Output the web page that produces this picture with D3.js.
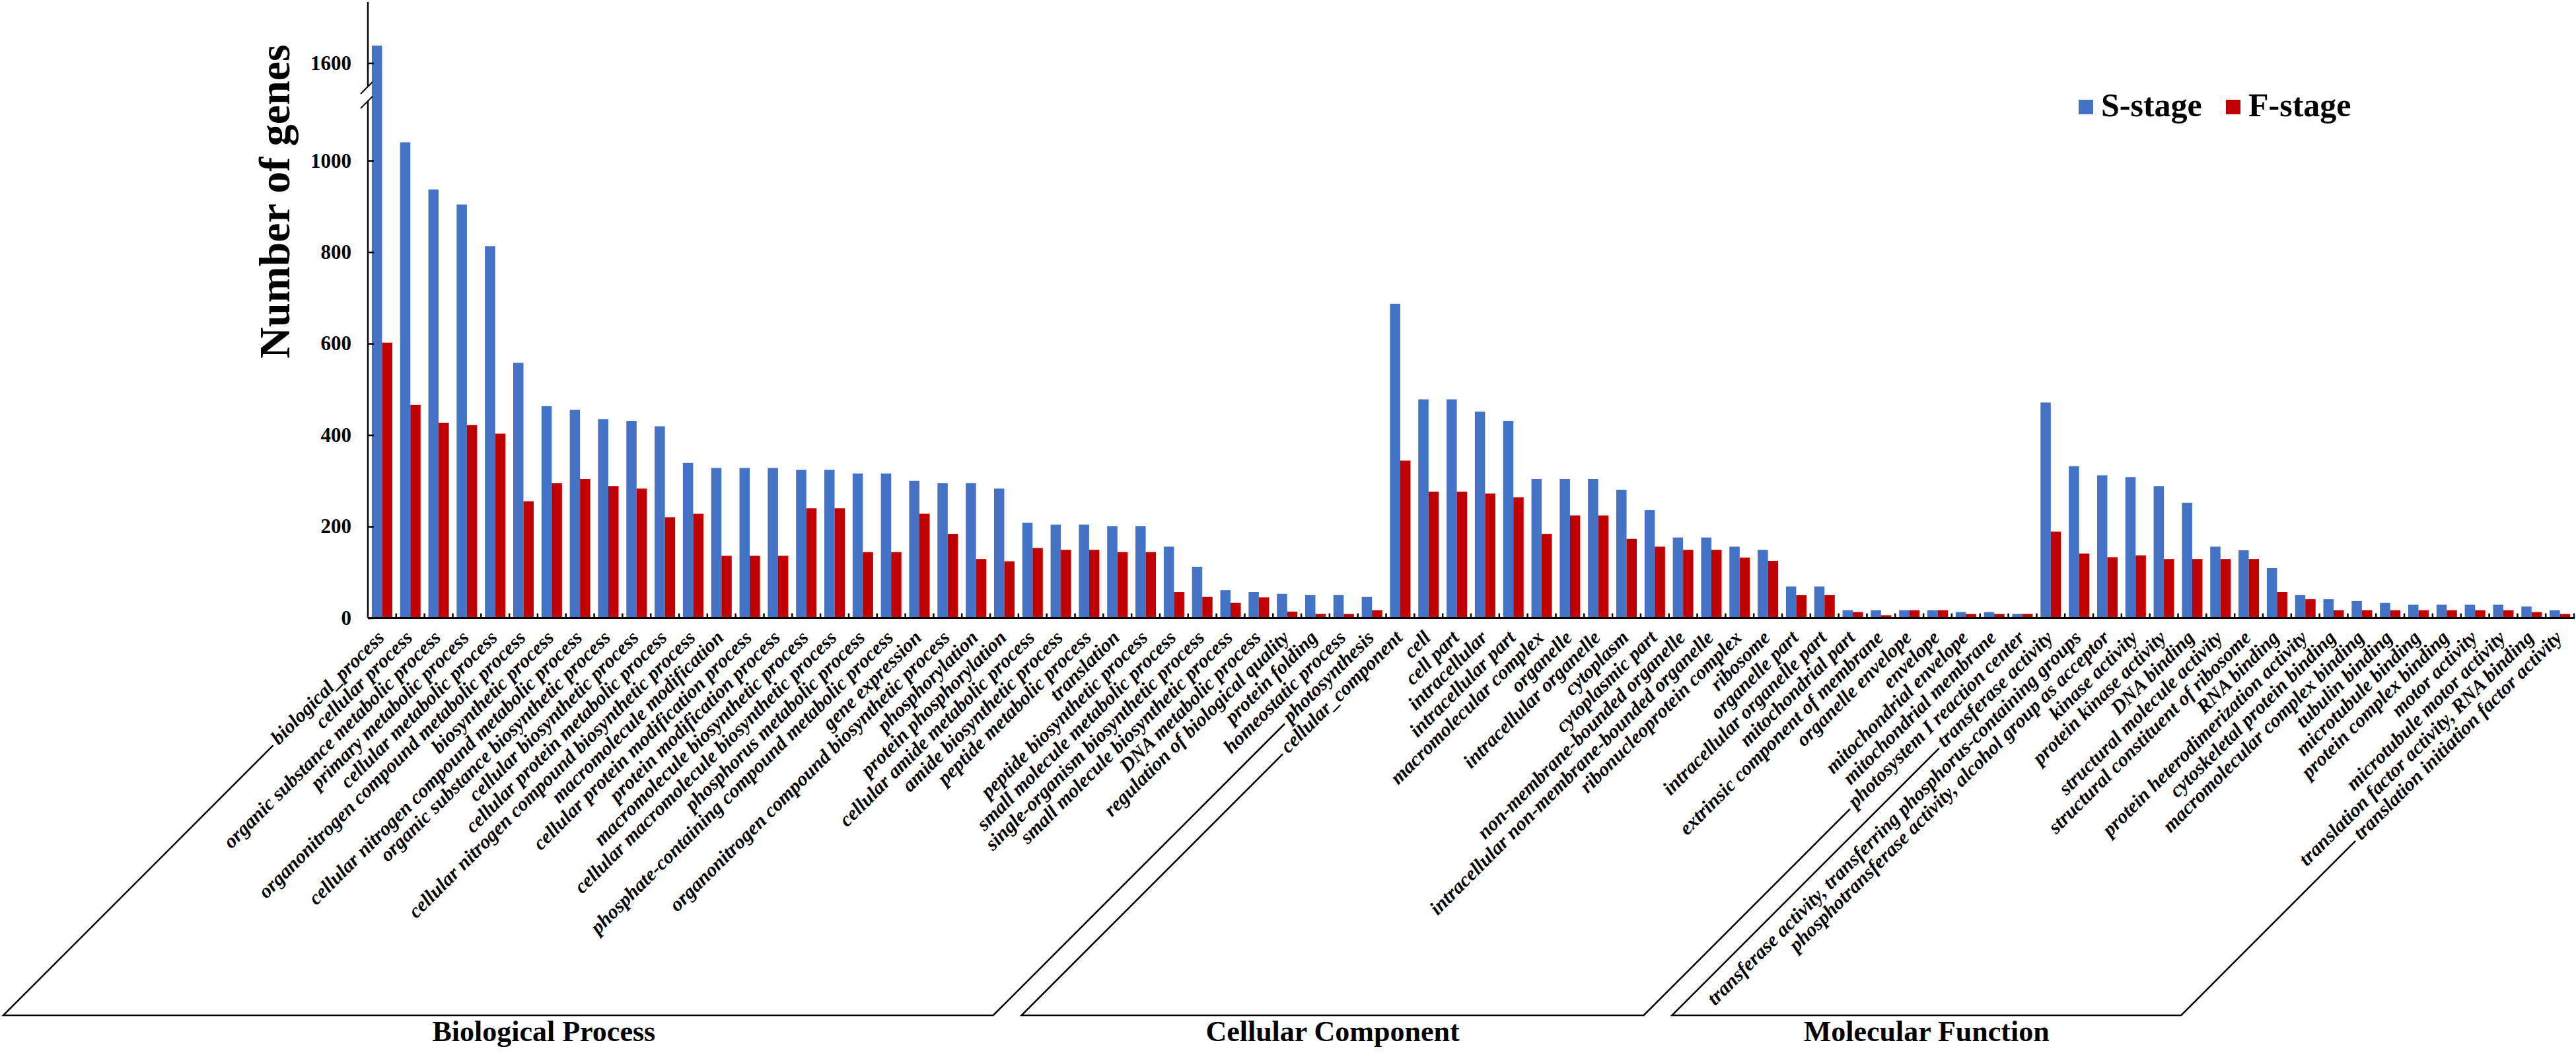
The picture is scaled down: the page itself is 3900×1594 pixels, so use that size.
<!DOCTYPE html>
<html>
<head>
<meta charset="utf-8">
<script src="https://cdn.jsdelivr.net/npm/d3@7"></script>
<style>
  html, body { margin: 0; padding: 0; background: #ffffff; }
  svg { display: block; }
  text { font-family: "Liberation Serif", "Times New Roman", serif; font-weight: bold; fill: #000; }
</style>
</head>
<body>
<svg id="chart" width="3900" height="1594"></svg>
<script>
// ---------------- DATA ----------------
const groupNames = ["Biological Process", "Cellular Component", "Molecular Function"];
const seriesNames = ["S-stage", "F-stage"];

const bpTerms = [
  "biological_process", "cellular process", "organic substance metabolic process",
  "primary metabolic process", "cellular metabolic process",
  "organonitrogen compound metabolic process", "biosynthetic process",
  "cellular nitrogen compound metabolic process", "organic substance biosynthetic process",
  "cellular biosynthetic process", "cellular protein metabolic process",
  "cellular nitrogen compound biosynthetic process", "macromolecule modification",
  "cellular protein modification process", "protein modification process",
  "macromolecule biosynthetic process", "cellular macromolecule biosynthetic process",
  "phosphorus metabolic process", "phosphate-containing compound metabolic process",
  "gene expression", "organonitrogen compound biosynthetic process", "phosphorylation",
  "protein phosphorylation", "cellular amide metabolic process", "amide biosynthetic process",
  "peptide metabolic process", "translation", "peptide biosynthetic process",
  "small molecule metabolic process", "single-organism biosynthetic process",
  "small molecule biosynthetic process", "DNA metabolic process",
  "regulation of biological quality", "protein folding", "homeostatic process", "photosynthesis"
];
const bpS = [1638, 1040, 937, 904, 813, 558, 463, 455, 435, 431, 419, 339, 328, 328, 328, 324, 324,
  316, 316, 300, 295, 295, 283, 208, 204, 204, 201, 201, 156, 112, 61, 57, 53, 50, 50, 46];
const bpF = [602, 466, 427, 422, 403, 255, 295, 304, 288, 283, 220, 228, 136, 136, 136, 240, 240,
  144, 144, 228, 184, 129, 124, 153, 149, 149, 144, 144, 57, 46, 33, 45, 14, 9, 9, 17];

const ccTerms = [
  "cellular_component", "cell", "cell part", "intracellular", "intracellular part",
  "macromolecular complex", "organelle", "intracellular organelle", "cytoplasm",
  "cytoplasmic part", "non-membrane-bounded organelle",
  "intracellular non-membrane-bounded organelle", "ribonucleoprotein complex", "ribosome",
  "organelle part", "intracellular organelle part", "mitochondrial part",
  "extrinsic component of membrane", "organelle envelope", "envelope",
  "mitochondrial envelope", "mitochondrial membrane", "photosystem I reaction center"
];
const ccS = [687, 478, 478, 451, 431, 304, 304, 304, 280, 236, 176, 176, 156, 149, 69, 69, 17, 17, 17, 17, 13, 13, 9];
const ccF = [344, 276, 276, 272, 264, 184, 224, 224, 173, 156, 149, 149, 132, 125, 50, 50, 13, 6, 17, 17, 9, 9, 9];

const mfTerms = [
  "transferase activity", "transferase activity, transferring phosphorus-containing groups",
  "phosphotransferase activity, alcohol group as acceptor", "kinase activity",
  "protein kinase activity", "DNA binding", "structural molecule activity",
  "structural constituent of ribosome", "RNA binding", "protein heterodimerization activity",
  "cytoskeletal protein binding", "macromolecular complex binding", "tubulin binding",
  "microtubule binding", "protein complex binding", "motor activity",
  "microtubule motor activity", "translation factor activity, RNA binding",
  "translation initiation factor activity"
];
const mfS = [471, 332, 312, 308, 288, 252, 156, 148, 109, 50, 41, 37, 33, 29, 29, 29, 29, 25, 17];
const mfF = [189, 141, 133, 137, 129, 129, 129, 129, 57, 41, 17, 17, 17, 17, 17, 17, 17, 13, 9];

const yTickValues = [0, 200, 400, 600, 800, 1000, 1600];
const yTitle = "Number of genes";

// ------------- build table -------------
const rows = [];
[[bpTerms, bpS, bpF], [ccTerms, ccS, ccF], [mfTerms, mfS, mfF]].forEach((g, gi) => {
  g[0].forEach((t, i) => rows.push({ term: t, group: gi, S: g[1][i], F: g[2][i], idx: rows.length }));
});

// ------------- layout -------------
const colors = { "S-stage": "#4472C4", "F-stage": "#C00000" };
const svg = d3.select("#chart");
svg.append("rect").attr("width", 3900).attr("height", 1594).attr("fill", "#fff");

const x0 = 557, x1 = 3897, yBase = 935.5;
const x = d3.scaleBand().domain(rows.map(d => d.idx)).range([x0, x1]).paddingInner(0).paddingOuter(0);
const bw = x.bandwidth();
const xs = d3.scaleBand().domain(seriesNames).range([0, bw]).paddingInner(0).paddingOuter(0.38);

// broken axis: lower 0..1146, upper 1533..1733
const yBreak = 142;
const y = d3.scaleLinear().domain([0, 1146, 1533, 1733]).range([yBase, yBreak, yBreak, 3]);

// bars
const gBars = svg.append("g");
rows.forEach(d => {
  seriesNames.forEach(s => {
    const v = s === "S-stage" ? d.S : d.F;
    gBars.append("rect")
      .attr("x", x(d.idx) + xs(s))
      .attr("y", y(v))
      .attr("width", xs.bandwidth())
      .attr("height", yBase - y(v))
      .attr("fill", colors[s]);
  });
});

// y axis
const yAxis = d3.axisLeft(y).tickValues(yTickValues).tickSizeInner(-9).tickSizeOuter(0).tickPadding(25)
  .tickFormat(d3.format("d"));
const gY = svg.append("g").attr("transform", `translate(${x0},0)`).call(yAxis);
gY.select(".domain").remove();
gY.selectAll(".tick line").attr("stroke", "#000").attr("stroke-width", 2.5);
gY.selectAll(".tick text").attr("font-size", 31).attr("font-family", "Liberation Serif, Times New Roman, serif")
  .attr("font-weight", "bold").attr("fill", "#000");

// y axis line with break gap
svg.append("line").attr("x1", x0).attr("x2", x0).attr("y1", 3).attr("y2", yBreak - 11)
  .attr("stroke", "#000").attr("stroke-width", 2.5);
svg.append("line").attr("x1", x0).attr("x2", x0).attr("y1", yBreak + 11).attr("y2", yBase)
  .attr("stroke", "#000").attr("stroke-width", 2.5);
[-11, 11].forEach(o => {
  svg.append("line").attr("x1", x0 - 11).attr("y1", yBreak + o + 11).attr("x2", x0 + 7).attr("y2", yBreak + o - 7)
    .attr("stroke", "#000").attr("stroke-width", 2);
});

// x axis baseline and ticks
svg.append("line").attr("x1", x0).attr("x2", x1 + 1).attr("y1", yBase).attr("y2", yBase)
  .attr("stroke", "#000").attr("stroke-width", 3);
rows.forEach(d => {
  const bx = x(d.idx) + bw;
  svg.append("line").attr("x1", bx).attr("x2", bx).attr("y1", yBase).attr("y2", yBase - 7)
    .attr("stroke", "#000").attr("stroke-width", 2.5);
});

// category labels
const labY = 967, labDx = 5;
const labels = svg.append("g").selectAll("text").data(rows).join("text")
  .attr("transform", d => `translate(${x(d.idx) + bw / 2 + labDx},${labY}) rotate(-45)`)
  .attr("text-anchor", "end")
  .attr("font-size", 30)
  .attr("font-style", "italic")
  .text(d => d.term);

// group brackets
const c45 = Math.SQRT1_2, yBr = 1537, gap = 6, off = 6;
const bracketBottoms = [];
groupNames.forEach((gname, gi) => {
  const gr = rows.filter(r => r.group === gi);
  const pts = [gr[0], gr[gr.length - 1]].map(r => {
    const node = labels.filter(d => d.idx === r.idx).node();
    const L = node.getComputedTextLength();
    const ex = x(r.idx) + bw / 2 + labDx, ey = labY;
    const sx = ex - (L + gap) * c45 - off * c45;
    const sy = ey + (L + gap) * c45 - off * c45;
    const bx = sx - (yBr - sy);
    return { sx, sy, bx };
  });
  svg.append("path")
    .attr("d", `M${pts[0].sx},${pts[0].sy}L${pts[0].bx},${yBr}L${pts[1].bx},${yBr}L${pts[1].sx},${pts[1].sy}`)
    .attr("fill", "none").attr("stroke", "#000").attr("stroke-width", 2.5);
  const left = Math.max(pts[0].bx, 143);
  svg.append("text").attr("x", (left + pts[1].bx) / 2).attr("y", 1576)
    .attr("text-anchor", "middle").attr("font-size", 44).text(gname);
});

// y title
svg.append("text").attr("transform", "translate(438,305) rotate(-90)")
  .attr("text-anchor", "middle").attr("font-size", 66).text(yTitle);

// legend
const legX = [3147, 3370];
seriesNames.forEach((s, i) => {
  svg.append("rect").attr("x", legX[i]).attr("y", 151).attr("width", 22).attr("height", 22).attr("fill", colors[s]);
  svg.append("text").attr("x", legX[i] + 34).attr("y", 176).attr("font-size", 50).text(s);
});
</script>
</body>
</html>
